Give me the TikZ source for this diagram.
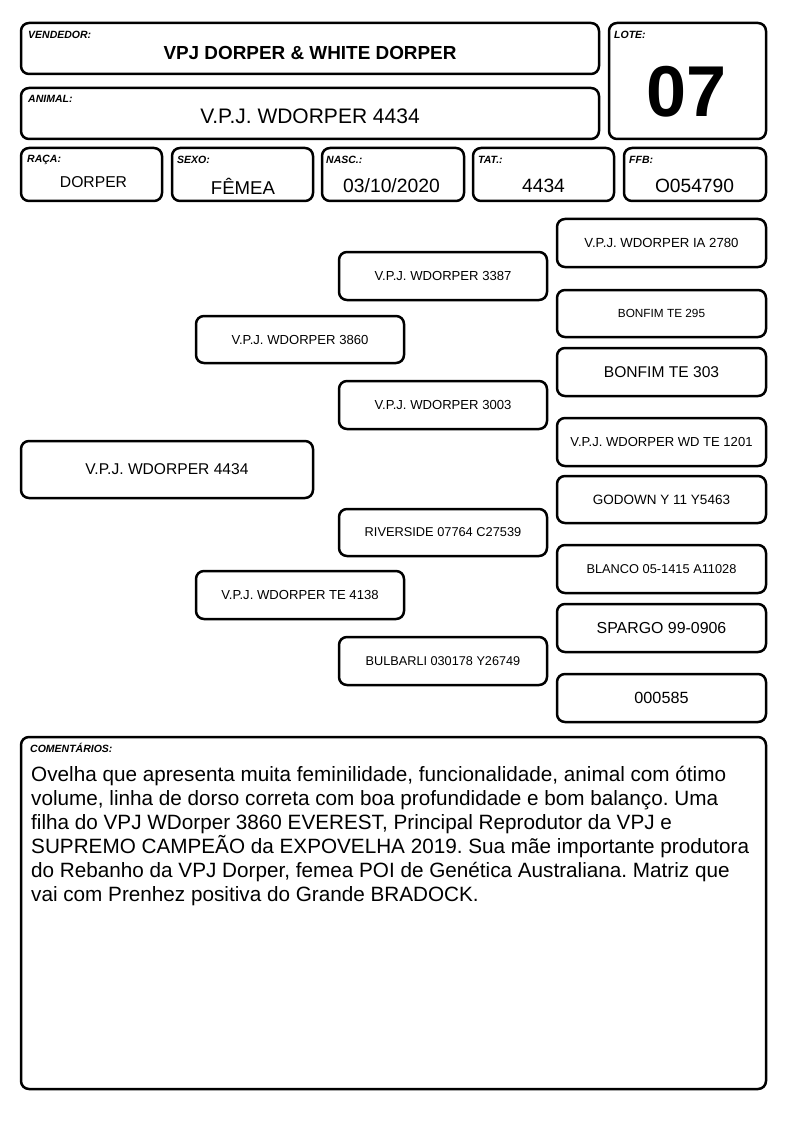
\documentclass[tikz,border=0pt]{standalone}
\usepackage{fontspec}
\setmainfont{Liberation Sans}
\newcommand{\fs}[1]{\fontsize{#1}{#1}\selectfont}
\frenchspacing
\begin{document}
\begin{tikzpicture}[x=1pt,y=-1pt,
  box/.style={draw, line width=2.5pt, rounded corners=8pt, inner sep=0pt, align=center},
  lbl/.style={font=\fs{10.5}\bfseries\itshape, anchor=west, inner sep=0pt},
  val/.style={inner sep=0pt, anchor=center}]
\useasboundingbox (0,0) rectangle (794,1123);
% header boxes
\node[box, minimum width=578pt, minimum height=51pt] (vend) at (310,48.5) {};
\node[box, minimum width=157pt, minimum height=116pt] (lote) at (687.5,81) {};
\node[box, minimum width=578pt, minimum height=51pt] (anim) at (310,113.5) {};
\node[box, minimum width=141pt, minimum height=53pt] (raca) at (91.5,174.5) {};
\node[box, minimum width=141pt, minimum height=53pt] (sexo) at (242.5,174.5) {};
\node[box, minimum width=142pt, minimum height=53pt] (nasc) at (393,174.5) {};
\node[box, minimum width=141pt, minimum height=53pt] (tat) at (543.5,174.5) {};
\node[box, minimum width=142pt, minimum height=53pt] (ffb) at (695,174.5) {};
% labels
\node[lbl] (lvend) at (28,35) {VENDEDOR:};
\node[lbl] (lanim) at (28,99) {ANIMAL:};
\node[lbl] (llote) at (614,35) {LOTE:};
\node[lbl] (lraca) at (27,159.5) {RAÇA:};
\node[lbl] (lsexo) at (177,160) {SEXO:};
\node[lbl] (lnasc) at (326,160) {NASC.:};
\node[lbl] (ltat) at (478,160) {TAT.:};
\node[lbl] (lffb) at (629,160) {FFB:};
% values
\node[val, font=\fs{18.9}\bfseries] (vvend) at (310,53) {VPJ DORPER \& WHITE DORPER};
\node[val, font=\fs{21}] (vanim) at (310,116) {V.P.J. WDORPER 4434};
\node[val, font=\fs{72}\bfseries] (vlote) at (687,92) {07};
\node[val, font=\fs{15.7}] (vraca) at (93.5,182) {DORPER};
\node[val, font=\fs{18.6}] (vsexo) at (243,186) {FÊMEA};
\node[val, font=\fs{19.3}] (vnasc) at (391.5,186) {03/10/2020};
\node[val, font=\fs{19.3}] (vtat) at (543.5,186) {4434};
\node[val, font=\fs{19.2}] (vffb) at (694.5,186) {O054790};
% pedigree: right column
\node[box, minimum width=209pt, minimum height=48pt, font=\fs{13.2}] (r1) at (661.5,243) {V.P.J. WDORPER IA 2780};
\node[box, minimum width=209pt, minimum height=47pt, font=\fs{11.8}] (r2) at (661.5,313.5) {BONFIM TE 295};
\node[box, minimum width=209pt, minimum height=48pt, font=\fs{15.6}] (r3) at (661.5,372) {BONFIM TE 303};
\node[box, minimum width=209pt, minimum height=48pt, font=\fs{13.05}] (r4) at (661.5,442) {V.P.J. WDORPER WD TE 1201};
\node[box, minimum width=209pt, minimum height=47pt, font=\fs{13.5}] (r5) at (661.5,499.5) {GODOWN Y 11 Y5463};
\node[box, minimum width=209pt, minimum height=48pt, font=\fs{12.8}] (r6) at (661.5,569) {BLANCO 05-1415 A11028};
\node[box, minimum width=209pt, minimum height=48pt, font=\fs{15.9}] (r7) at (661.5,628) {SPARGO 99-0906};
\node[box, minimum width=209pt, minimum height=48pt, font=\fs{16.2}] (r8) at (661.5,698) {000585};
% middle column
\node[box, minimum width=208pt, minimum height=48pt, font=\fs{13.1}] (m1) at (443,276) {V.P.J. WDORPER 3387};
\node[box, minimum width=208pt, minimum height=48pt, font=\fs{13.1}] (m2) at (443,405) {V.P.J. WDORPER 3003};
\node[box, minimum width=208pt, minimum height=47pt, font=\fs{12.8}] (m3) at (443,532.5) {RIVERSIDE 07764 C27539};
\node[box, minimum width=208pt, minimum height=48pt, font=\fs{12.7}] (m4) at (443,661) {BULBARLI 030178 Y26749};
% parents
\node[box, minimum width=208pt, minimum height=47pt, font=\fs{13.1}] (p1) at (300,339.5) {V.P.J. WDORPER 3860};
\node[box, minimum width=208pt, minimum height=48pt, font=\fs{13.1}] (p2) at (300,595) {V.P.J. WDORPER TE 4138};
% main animal
\node[box, minimum width=292pt, minimum height=57pt, font=\fs{15.6}] (main) at (167,469.5) {V.P.J. WDORPER 4434};
% comments
\node[box, minimum width=745pt, minimum height=352pt] (com) at (393.5,913) {};
\node[lbl] (lcom) at (30,748) {COMENTÁRIOS:};
\node[inner sep=0pt, anchor=north west, align=left, font=\fontsize{20.7}{24}\selectfont] (tcom) at (31,766) {Ovelha que apresenta muita feminilidade, funcionalidade, animal com ótimo\\
volume, linha de dorso correta com boa profundidade e bom balanço. Uma\\
filha do VPJ WDorper 3860 EVEREST, Principal Reprodutor da VPJ e\\
SUPREMO CAMPEÃO da EXPOVELHA 2019. Sua mãe importante produtora\\
do Rebanho da VPJ Dorper, femea POI de Genética Australiana. Matriz que\\
vai com Prenhez positiva do Grande BRADOCK.};
\end{tikzpicture}
\end{document}
